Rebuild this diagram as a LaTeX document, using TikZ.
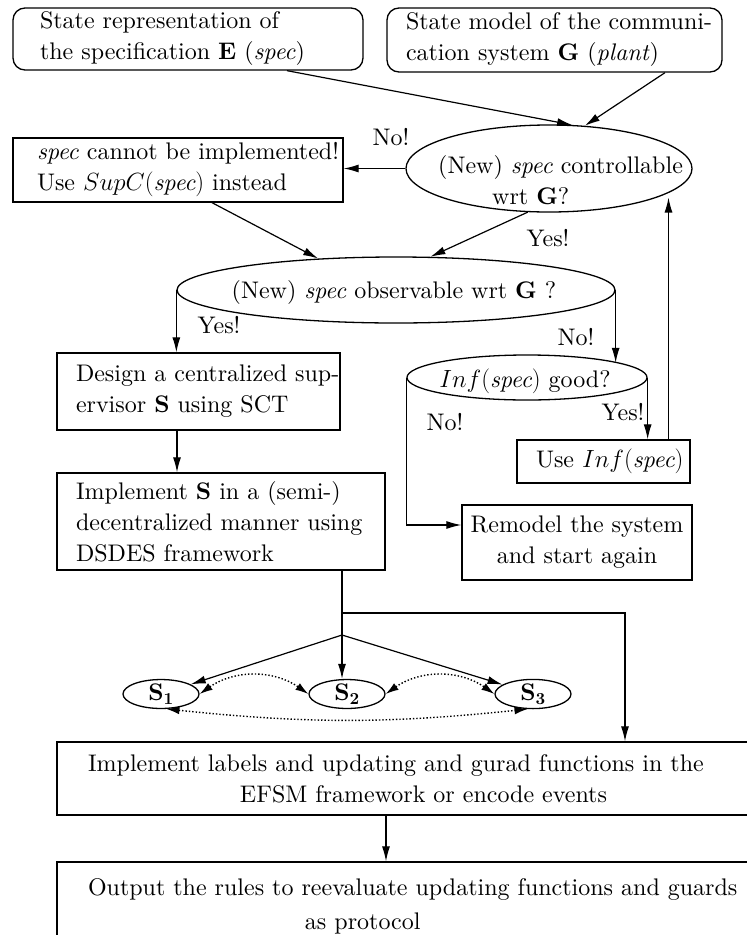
\documentclass[tikz,border=0pt]{standalone}
\usepackage{fontspec}
\setmainfont{lmroman10-regular.otf}[BoldFont=lmroman10-bold.otf,ItalicFont=lmroman10-italic.otf,BoldItalicFont=lmroman10-bolditalic.otf]
\usetikzlibrary{arrows.meta,shapes.geometric,calc}
\begin{document}
\begin{tikzpicture}[x=1pt,y=-1pt,
  every node/.style={font=\fontsize{24}{31}\selectfont},
  box/.style={draw,line width=1.3pt,rectangle,inner ysep=0pt,align=left},
  rbox/.style={box,rounded corners=12pt},
  oval/.style={draw,line width=1.3pt,ellipse,inner sep=0pt},
  txt/.style={inner sep=0pt,align=center},
  lab/.style={inner sep=0pt},
  ln/.style={line width=1.2pt},
  arr/.style={line width=1.2pt,-{Latex[length=15pt,width=8pt]}},
  dotarr/.style={line width=1.4pt,dotted,{Latex[length=13pt,width=8pt]}-{Latex[length=13pt,width=8pt]}},
]
\useasboundingbox (0,0) rectangle (747,935);

% top boxes
\node[rbox,minimum width=350pt,minimum height=62pt,text width=296pt,inner xsep=27pt] (tl) at (188,39)
  {\mbox{State representation of}\\\mbox{the specification \textbf{E} (\textit{spec})}};
\node[rbox,minimum width=335pt,minimum height=64pt,text width=297pt,inner xsep=19pt] (tr) at (554.5,40)
  {\mbox{State model of the communi-}\\\mbox{cation system \textbf{G} (\textit{plant})}};

% controllable
\node[oval,minimum width=286pt,minimum height=87pt] (ctrl) at (549,168.5) {};
\node[txt,anchor=west,align=left] (ctrltxt) at (438,180) {(New) \textit{spec} controllable\\\hspace*{54pt}wrt \textbf{G}?};

\node[box,minimum width=330pt,minimum height=64pt,text width=282pt,inner xsep=24pt] (spec) at (178,170)
  {\mbox{\textit{spec} cannot be implemented!}\\\mbox{Use $SupC(\textit{spec})$ instead}};

% observable
\node[oval,minimum width=438pt,minimum height=66pt] (obs) at (396,290) {};
\node[txt] (obstxt) at (394,292) {(New) \textit{spec} observable wrt \textbf{G} ?};

% inf cylinder
\node[oval,minimum width=240pt,minimum height=45pt] (inf) at (527,377.5) {};
\node[txt] (inftxt) at (525,381) {$Inf(\textit{spec})$ good?};

\node[box,minimum width=283pt,minimum height=77pt,text width=245pt,inner xsep=19pt] (design) at (198.5,391.5)
  {\mbox{Design a centralized sup-}\\\mbox{ervisor \textbf{S} using SCT}};
\node[box,minimum width=328pt,minimum height=97pt,text width=290pt,inner xsep=19pt] (impl) at (221,521.5)
  {\mbox{Implement \textbf{S} in a (semi-)}\\\mbox{decentralized manner using}\\\mbox{DSDES framework}};
\node[box,minimum width=173pt,minimum height=43pt,text width=135pt,inner xsep=19pt] (useinf) at (603.5,461.5)
  {\mbox{Use $Inf(\textit{spec})$}};
\node[box,minimum width=230pt,minimum height=75pt,text width=230pt,inner xsep=0pt,align=center] (remodel) at (577,542.5)
  {Remodel the system\\and start again};

% supervisors
\node[oval,minimum width=76pt,minimum height=28pt] (S1) at (161,694) {$\mathbf{S_1}$};
\node[oval,minimum width=76pt,minimum height=28pt] (S2) at (347,694) {$\mathbf{S_2}$};
\node[oval,minimum width=76pt,minimum height=28pt] (S3) at (533,694) {$\mathbf{S_3}$};

% bottom boxes
\node[box,minimum width=703pt,minimum height=73pt,text width=641pt,inner xsep=31pt] (efsm) at (408.5,778.5)
  {\mbox{Implement labels and updating and gurad functions in the}\\\hspace*{152pt}EFSM framework or encode events};
\node[box,minimum width=703pt,minimum height=88pt,text width=641pt,inner xsep=31pt,font=\fontsize{24}{34}\selectfont] (out) at (408.5,906)
  {\mbox{Output the rules to reevaluate updating functions and guards}\\\hspace*{217pt}as protocol};

% labels
\node[lab] (no1) at (391,137) {No!};
\node[lab] (yes1) at (548,238) {Yes!};
\node[lab] (yes2) at (219,325) {Yes!};
\node[lab] (no2) at (576,337) {No!};
\node[lab] (no3) at (445,422) {No!};
\node[lab] (yes3) at (623,412) {Yes!};

% connectors
\draw[arr] ([xshift=99pt]tl.south) -- (ctrl.62);
\draw[arr] ([xshift=110.5pt]tr.south) -- (ctrl.50);
\draw[arr] (ctrl.west) -- (ctrl.west -| spec.east);
\draw[arr] ([xshift=34pt]spec.south) -- (obs.158);
\draw[arr] (ctrl.244) -- (obs.44);
\draw[arr] (obs.west) -- (obs.west |- design.north);
\draw[arr] (obs.east) -- (obs.east |- inf.9);
\draw[arr] (inf.west) |- ([yshift=17.5pt]remodel.west);
\draw[arr] (inf.east) -- (inf.east |- useinf.north);
\draw[arr] ([xshift=65pt]useinf.north) -- ([xshift=65pt]useinf.north |- ctrl.345);
\draw[arr] ([xshift=-21.5pt]design.south) -- ([xshift=-21.5pt]design.south |- impl.north);

\coordinate (B) at (342,613);
\coordinate (J) at (342,635);
\draw[ln] ([xshift=121pt]impl.south) -- (J);
\draw[arr] (B) -| ([xshift=216.5pt]efsm.north);
\draw[arr] (J) -- (S1);
\draw[arr] (J) -- (J |- S2.north);
\draw[arr] (J) -- (S3);

\draw[dotarr] (S1.east) to[bend left=35] (S2.west);
\draw[dotarr] (S2.east) to[bend left=35] (S3.west);
\draw[dotarr] (S1.290) to[bend right=6] (S3.250);

\draw[arr] ([xshift=-22.5pt]efsm.south) -- ([xshift=-22.5pt]efsm.south |- out.north);
\end{tikzpicture}
\end{document}
